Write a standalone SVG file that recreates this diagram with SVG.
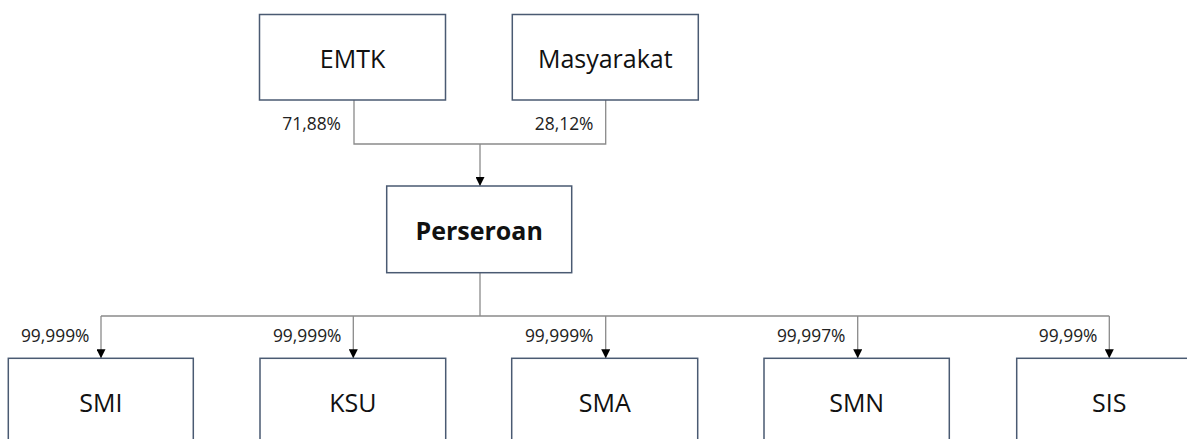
<svg xmlns="http://www.w3.org/2000/svg" width="1187" height="439" viewBox="0 0 1187 439">
<style>
.box{fill:#fff;stroke:#4a5a72;stroke-width:1.5}
.lbl{font-family:"Open Sans","Liberation Sans",sans-serif;font-size:25px;fill:#111;text-anchor:middle}
.bold{font-weight:bold}
.pct{font-family:"Open Sans","Liberation Sans",sans-serif;font-size:17.4px;fill:#222;text-anchor:end}
.con{fill:none;stroke:#8a8a8a;stroke-width:1.3}
</style>
<defs>
<marker id="arr" viewBox="0 0 10 10" refX="10" refY="5" markerWidth="9" markerHeight="9" markerUnits="userSpaceOnUse" orient="auto">
<path d="M0,0 L10,5 L0,10 Z" fill="#000"/>
</marker>
</defs>
<g id="connectors">
<path class="con" d="M354,100 V144 H605.7 V100"/>
<path class="con" d="M480,144 V186" marker-end="url(#arr)"/>
<path class="con" d="M480,273 V316"/>
<path class="con" d="M101,316 H1109.3"/>
<path class="con" d="M101,316 V358.3" marker-end="url(#arr)"/>
<path class="con" d="M353.3,316 V358.3" marker-end="url(#arr)"/>
<path class="con" d="M605.7,316 V358.3" marker-end="url(#arr)"/>
<path class="con" d="M857.7,316 V358.3" marker-end="url(#arr)"/>
<path class="con" d="M1109.3,316 V358.3" marker-end="url(#arr)"/>
<text class="pct" x="341" y="129.5">71,88%</text>
<text class="pct" x="593.5" y="129.5">28,12%</text>
<text class="pct" x="89.5" y="341.5">99,999%</text>
<text class="pct" x="341.5" y="341.5">99,999%</text>
<text class="pct" x="593.5" y="341.5">99,999%</text>
<text class="pct" x="845.5" y="341.5">99,997%</text>
<text class="pct" x="1097.5" y="341.5">99,99%</text>
</g>
<g id="node-emtk"><rect class="box" x="259.5" y="14.5" width="186" height="85.5"/><text class="lbl" x="352.5" y="68.3">EMTK</text></g>
<g id="node-masyarakat"><rect class="box" x="512.3" y="14.5" width="186" height="85.5"/><text class="lbl" x="605.3" y="68.3">Masyarakat</text></g>
<g id="node-perseroan"><rect class="box" x="386.7" y="186" width="185" height="86.7"/><text class="lbl bold" x="479.2" y="240">Perseroan</text></g>
<g id="node-smi"><rect class="box" x="8.3" y="358.3" width="185" height="86"/><text class="lbl" x="100.8" y="411.7">SMI</text></g>
<g id="node-ksu"><rect class="box" x="260" y="358.3" width="185.7" height="86"/><text class="lbl" x="352.8" y="411.7">KSU</text></g>
<g id="node-sma"><rect class="box" x="511.7" y="358.3" width="186" height="86"/><text class="lbl" x="604.7" y="411.7">SMA</text></g>
<g id="node-smn"><rect class="box" x="764" y="358.3" width="185.3" height="86"/><text class="lbl" x="856.7" y="411.7">SMN</text></g>
<g id="node-sis"><rect class="box" x="1016.7" y="358.3" width="185.5" height="86"/><text class="lbl" x="1109.3" y="411.7">SIS</text></g>
</svg>
